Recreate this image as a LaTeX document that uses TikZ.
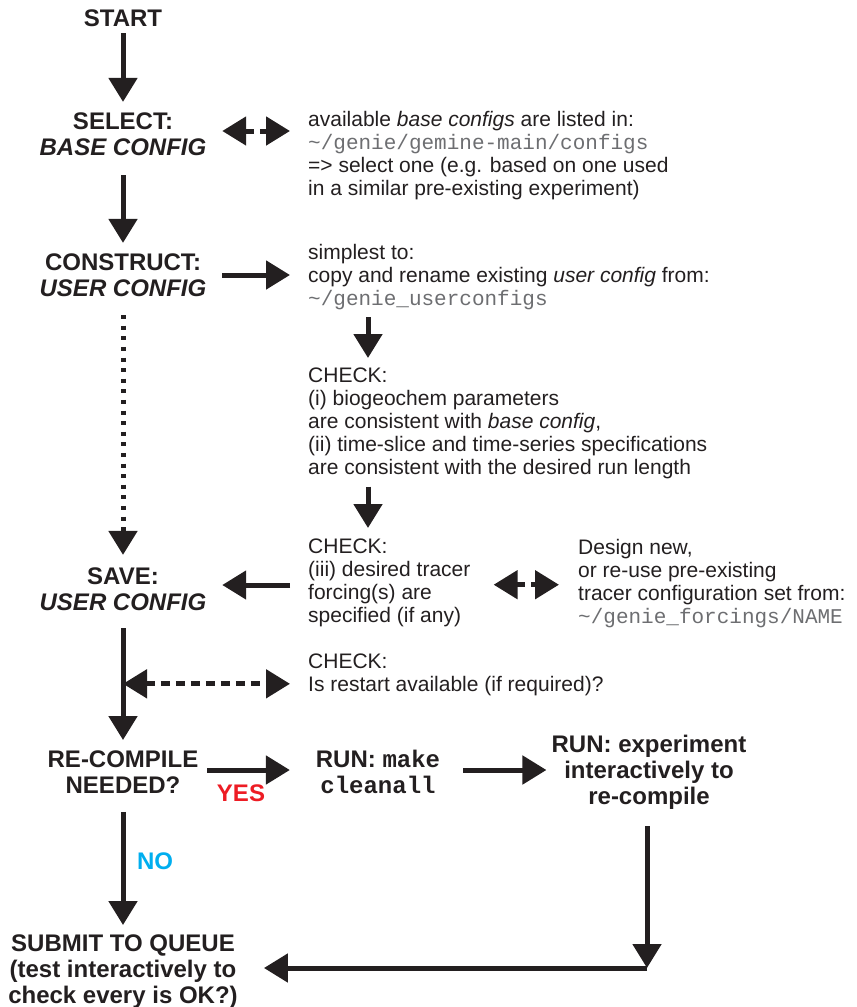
\documentclass[tikz,border=0pt]{standalone}
\usepackage{fontspec}
\setmainfont{Liberation Sans}
\setmonofont{Liberation Mono}
\usetikzlibrary{arrows.meta,calc}
\definecolor{ink}{HTML}{231F20}
\definecolor{yesred}{HTML}{ED1C24}
\definecolor{nocyan}{HTML}{00AEEF}
\definecolor{pathgray}{HTML}{6D6E71}
\newcommand{\mypath}[1]{{\ttfamily\fontsize{21}{23}\selectfont\color{pathgray}#1}}
\begin{document}
\begin{tikzpicture}[x=1pt,y=-1pt,
  title/.style={font=\fontsize{24}{26}\selectfont\bfseries, align=center, inner sep=0pt, text=ink},
  body/.style={font=\fontsize{21}{23}\selectfont, align=left, inner sep=0pt, anchor=north west, text=ink},
  tipA/.tip={Triangle[width=28pt,length=24pt]},
  arr/.style={line width=5pt, draw=ink, -tipA},
  darr/.style={line width=5pt, draw=ink, tipA-tipA, dash pattern=on 9pt off 6pt},
  dotarr/.style={line width=5pt, draw=ink, -tipA, dash pattern=on 4pt off 6.6pt}]
\useasboundingbox (0,0) rectangle (857,1007);

% left column and run boxes
\node[title] (start) at (123,18) {START};
\node[title] (select) at (123,134) {SELECT:\\{\itshape BASE CONFIG}};
\node[title] (construct) at (123,275) {CONSTRUCT:\\{\itshape USER CONFIG}};
\node[title] (save) at (123,589) {SAVE:\\{\itshape USER CONFIG}};
\node[title] (recomp) at (123,772) {RE-COMPILE\\NEEDED?};
\node[title] (submit) at (123,972) {SUBMIT TO QUEUE\\(test interactively to\\check every is OK?)};
\node[title] (make) at (378,772) {RUN: {\ttfamily make}\\{\ttfamily cleanall}};
\node[title] (exp) at (649,772) {RUN: experiment\\interactively to\\re-compile};

% text blocks
\node[body] (avail) at (308,111) {available \textit{base configs} are listed in:\\\mypath{\textasciitilde/genie/gemine-main/configs}\\=> select one (e.g. based on one used\\in a similar pre-existing experiment)};
\node[body] (simple) at (308,244) {simplest to:\\copy and rename existing \textit{user config} from:\\\mypath{\textasciitilde/genie\_userconfigs}};
\node[body] (check1) at (308,368) {CHECK:\\(i) biogeochem parameters\\are consistent with \textit{base config},\\(ii) time-slice and time-series specifications\\are consistent with the desired run length};
\node[body] (check2) at (308,539) {CHECK:\\(iii) desired tracer\\forcing(s) are\\specified (if any)};
\node[body] (design) at (578,539) {Design new,\\or re-use pre-existing\\tracer configuration set from:\\\mypath{\textasciitilde/genie\_forcings/NAME}};
\node[body] (restart) at (308,654) {CHECK:\\Is restart available (if required)?};

\node[font=\fontsize{24}{26}\selectfont\bfseries, text=yesred, inner sep=0pt] (yes) at (241,793) {YES};
\node[font=\fontsize{24}{26}\selectfont\bfseries, text=nocyan, inner sep=0pt] (no) at (155,861) {NO};

\coordinate (corner) at (647,968);

% connectors
\draw[arr, shorten <=6.4pt, shorten >=10.4pt] (start) -- (select);
\draw[arr, shorten <=19.4pt, shorten >=10.4pt] (select) -- (construct);
\draw[darr, shorten <=15.7pt, shorten >=18pt] ($(select.east)+(0,-3)$) -- ($(select.east -| avail.west)+(0,-3)$);
\draw[arr, shorten <=15.7pt, shorten >=18pt] (construct.east) -- (construct.east -| simple.west);
\draw[arr, shorten <=7.5pt, shorten >=10pt] ($(simple.south west)+(60,0)$) -- ($(check1.north west)+(60,0)$);
\draw[arr, shorten <=7.3pt, shorten >=11pt] ($(check1.south west)+(60,0)$) -- ($(check2.north west)+(60,0)$);
\draw[arr, shorten <=18pt, shorten >=15.7pt] ($(save.east -| check2.west)+(0,-4)$) -- ($(save.east)+(0,-4)$);
\draw[darr, shorten <=23pt, shorten >=19pt] ($(check2.east)+(0,1.5)$) -- ($(check2.east -| design.west)+(0,1.5)$);
\draw[dotarr, shorten <=18.4pt, shorten >=12.4pt] (construct) -- (save);
\draw[arr, shorten <=17.4pt, shorten >=10.4pt] (save) -- (recomp);
\draw[darr, shorten >=18pt] ($(restart.west -| save.center)+(0,8.6)$) -- ($(restart.west)+(0,8.6)$);
\draw[arr, shorten <=8.7pt, shorten >=25.8pt] ($(recomp.east)+(0,-2)$) -- ($(recomp.east -| make.west)+(0,-2)$);
\draw[arr, shorten <=22.8pt, shorten >=5pt] ($(make.east)+(0,-2)$) -- ($(make.east -| exp.west)+(0,-2)$);
\draw[arr, shorten <=17pt] (exp.south -| corner) -- (corner);
\draw[arr, shorten >=26pt] (corner) -- (corner -| submit.east);
\draw[arr, shorten <=18.4pt, shorten >=9.9pt] (recomp) -- (submit);
\end{tikzpicture}
\end{document}
